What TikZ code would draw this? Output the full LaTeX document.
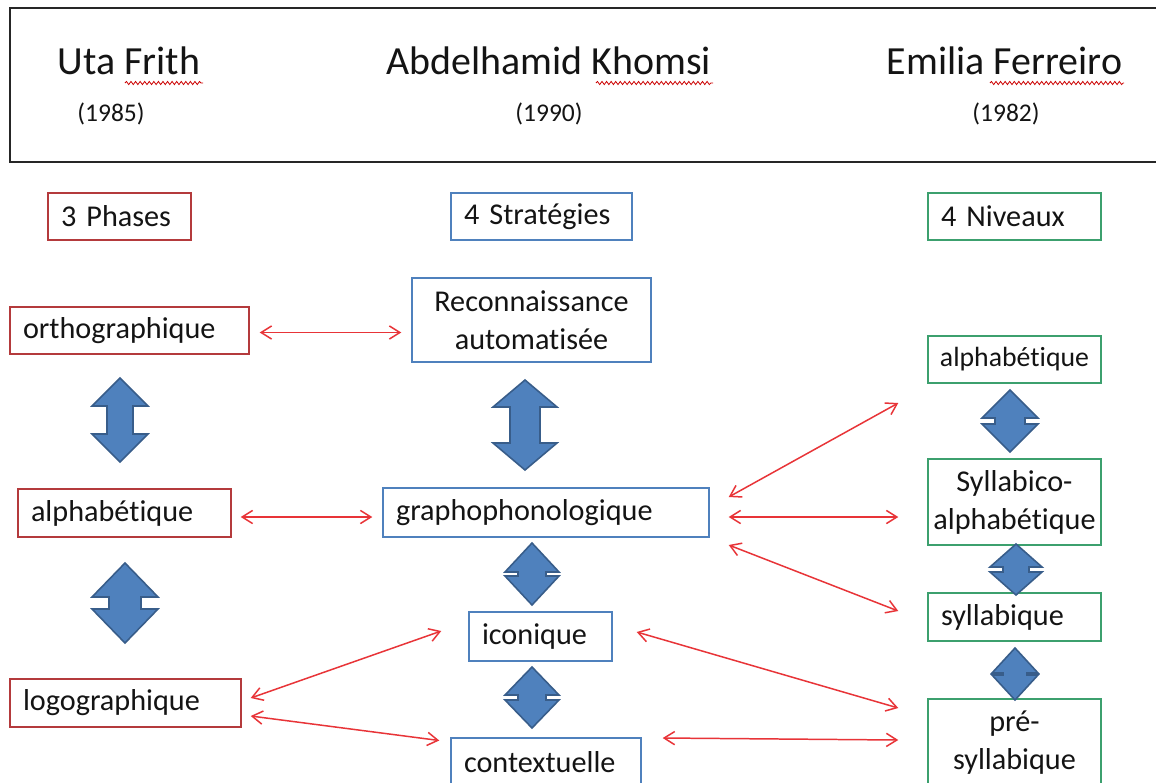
\documentclass[tikz,border=0pt]{standalone}
\usepackage{fontspec}
\setmainfont{Carlito}[Ligatures=NoCommon]
\usetikzlibrary{arrows.meta,calc,decorations.pathmorphing}
\definecolor{rboxc}{RGB}{180,58,60}
\definecolor{bboxc}{RGB}{79,129,189}
\definecolor{gboxc}{RGB}{60,160,110}
\definecolor{redline}{RGB}{232,52,56}
\definecolor{bfill}{RGB}{79,129,189}
\definecolor{bdraw}{RGB}{56,93,138}
\newcommand{\udarrow}[6]{%
  \draw[blockarrow] (#1,#2) -- (#1+#4,#2+#5) -- (#1+#6,#2+#5) -- (#1+#6,#3-#5)
    -- (#1+#4,#3-#5) -- (#1,#3) -- (#1-#4,#3-#5) -- (#1-#6,#3-#5)
    -- (#1-#6,#2+#5) -- (#1-#4,#2+#5) -- cycle;}
\tikzset{
  boxbase/.style={draw, line width=0.85pt, inner xsep=0.26cm, inner ysep=0pt,
    font=\fontsize{17.2pt}{21.6pt}\selectfont, text=black!92},
  rbox/.style={boxbase, draw=rboxc},
  bbox/.style={boxbase, draw=bboxc},
  gbox/.style={boxbase, draw=gboxc},
  blockarrow/.style={fill=bfill, draw=bdraw, line width=0.9pt, line join=miter},
  redarr/.style={draw=redline, line width=0.85pt, {Straight Barb[length=6pt,width=7.5pt]}-{Straight Barb[length=6pt,width=7.5pt]}},
  namet/.style={anchor=base, font=\fontsize{22.7pt}{27pt}\selectfont, text=black!92, inner sep=0pt},
  yeart/.style={anchor=base, font=\fontsize{14.5pt}{17pt}\selectfont, text=black!92, inner sep=0pt},
  squiggle/.style={draw=red!80!black, line width=0.45pt, decorate,
    decoration={snake, amplitude=0.9pt, segment length=2.6pt}}
}
\begin{document}
\begin{tikzpicture}[x=0.02cm, y=-0.02cm]
\useasboundingbox (0,0) rectangle (1156,782);
\clip (0,0) rectangle (1156,782);
\fill[white] (0,0) rectangle (1156,782);
% header
\draw[line width=0.9pt, draw=black!85] (10,8) rectangle (1170,162);
\node[namet] (frith) at (129,74) {Uta Frith};
\node[yeart] (y1985) at (111,121) {(1985)};
\node[namet] (khomsi) at (549,74) {Abdelhamid Khomsi};
\node[yeart] (y1990) at (549,121) {(1990)};
\node[namet] (ferreiro) at (1004.5,74) {Emilia Ferreiro};
\node[yeart] (y1982) at (1006,121) {(1982)};
\draw[squiggle] (125,83) -- (203,83);
\draw[squiggle] (596,83) -- (713,83);
\draw[squiggle] (990,83) -- (1124,83);
% column headers
\node[rbox, minimum width=2.86cm, minimum height=0.94cm, text width=2.34cm, align=left] (phases) at (119.5,216.5) {3 Phases};
\node[bbox, minimum width=3.62cm, minimum height=0.94cm, text width=3.10cm, align=left] (strat) at (541.5,216.5) {4 Stratégies};
\node[gbox, minimum width=3.46cm, minimum height=0.94cm, text width=2.94cm, align=left] (niv) at (1014.5,216.5) {4 Niveaux};
% Frith
\node[rbox, minimum width=4.78cm, minimum height=0.94cm, text width=4.26cm, align=left] (ortho) at (129.5,330.5) {orthographique};
\node[rbox, minimum width=4.26cm, minimum height=0.96cm, text width=3.74cm, align=left] (alphaL) at (124.5,513) {alphabétique};
\node[rbox, minimum width=4.62cm, minimum height=0.96cm, text width=4.10cm, align=left] (logo) at (125.5,703) {logographique};
% Khomsi
\node[bbox, minimum width=4.78cm, minimum height=1.68cm, text width=4.26cm, align=center] (recon) at (531.5,320) {Reconnaissance\\automatisée};
\node[bbox, minimum width=6.52cm, minimum height=0.98cm, text width=6.00cm, align=left] (grapho) at (546,512.5) {graphophonologique};
\node[bbox, minimum width=2.86cm, minimum height=0.98cm, text width=2.34cm, align=left] (icon) at (540.5,636.5) {iconique};
\node[bbox, minimum width=3.80cm, minimum height=0.96cm, text width=3.28cm, align=left] (context) at (546,762) {contextuelle};
% Ferreiro
\node[gbox, minimum width=3.46cm, minimum height=0.94cm, text width=3.10cm, inner xsep=0.18cm, align=center, font=\fontsize{15.8pt}{19pt}\selectfont] (alphaR) at (1014.5,359.5) {alphabétique};
\node[gbox, minimum width=3.46cm, minimum height=1.72cm, text width=3.30cm, inner xsep=0.08cm, align=center] (syllabico) at (1014.5,502) {Syllabico-\\alphabétique};
\node[gbox, minimum width=3.46cm, minimum height=0.96cm, text width=2.94cm, align=left] (syll) at (1014.5,617) {syllabique};
\node[gbox, minimum width=3.46cm, minimum height=1.76cm, text width=3.30cm, inner xsep=0.08cm, align=center] (presyl) at (1014.5,743) {pré-\\syllabique};
% block arrows
\udarrow{120}{378}{462}{28}{28}{13}
\udarrow{125}{563}{643}{33}{34}{16}
\udarrow{525}{380}{470}{32}{27}{15}
\udarrow{532}{543}{605}{27}{29}{14}
\udarrow{532}{667}{728}{27}{28}{14}
\udarrow{1010}{390}{452}{28}{28}{15}
\udarrow{1016}{544}{595}{26}{23}{13}
\udarrow{1015}{648}{700}{23}{25}{12}
% red connector end points
\coordinate (o1) at ($(ortho.east)+(10,2)$);
\coordinate (r1) at ($(ortho.east -| recon.west)+(-10,2)$);
\coordinate (a1) at ($(alphaL.east)+(9,4)$);
\coordinate (g1) at ($(alphaL.east -| grapho.west)+(-10,4)$);
\coordinate (g2) at ($(grapho.east)+(19,-15.5)$);
\coordinate (ar) at ($(alphaR.west)+(-29,43.5)$);
\coordinate (g3) at ($(grapho.east)+(19,4.5)$);
\coordinate (sb) at ($(grapho.east -| syllabico.west)+(-29,4.5)$);
\coordinate (g4) at ($(grapho.east)+(19,32.5)$);
\coordinate (sy) at ($(syll.west)+(-29,-6)$);
\coordinate (l1) at ($(logo.east)+(9,-5)$);
\coordinate (ic) at ($(icon.west)+(-27,-5.5)$);
\coordinate (l2) at ($(logo.east)+(9,13)$);
\coordinate (ct) at ($(context.west)+(-11,-21.5)$);
\coordinate (i2) at ($(icon.east)+(24,-4.5)$);
\coordinate (p1) at ($(presyl.west)+(-29,-35)$);
\coordinate (c2) at ($(context.east)+(21,-24)$);
\coordinate (p2) at ($(presyl.west)+(-29,-3)$);
% red connectors
\draw[redarr] (o1) -- (r1);
\draw[redarr] (a1) -- (g1);
\draw[redarr] (g2) -- (ar);
\draw[redarr] (g3) -- (sb);
\draw[redarr] (g4) -- (sy);
\draw[redarr] (l1) -- (ic);
\draw[redarr] (l2) -- (ct);
\draw[redarr] (i2) -- (p1);
\draw[redarr] (c2) -- (p2);
\end{tikzpicture}
\end{document}
